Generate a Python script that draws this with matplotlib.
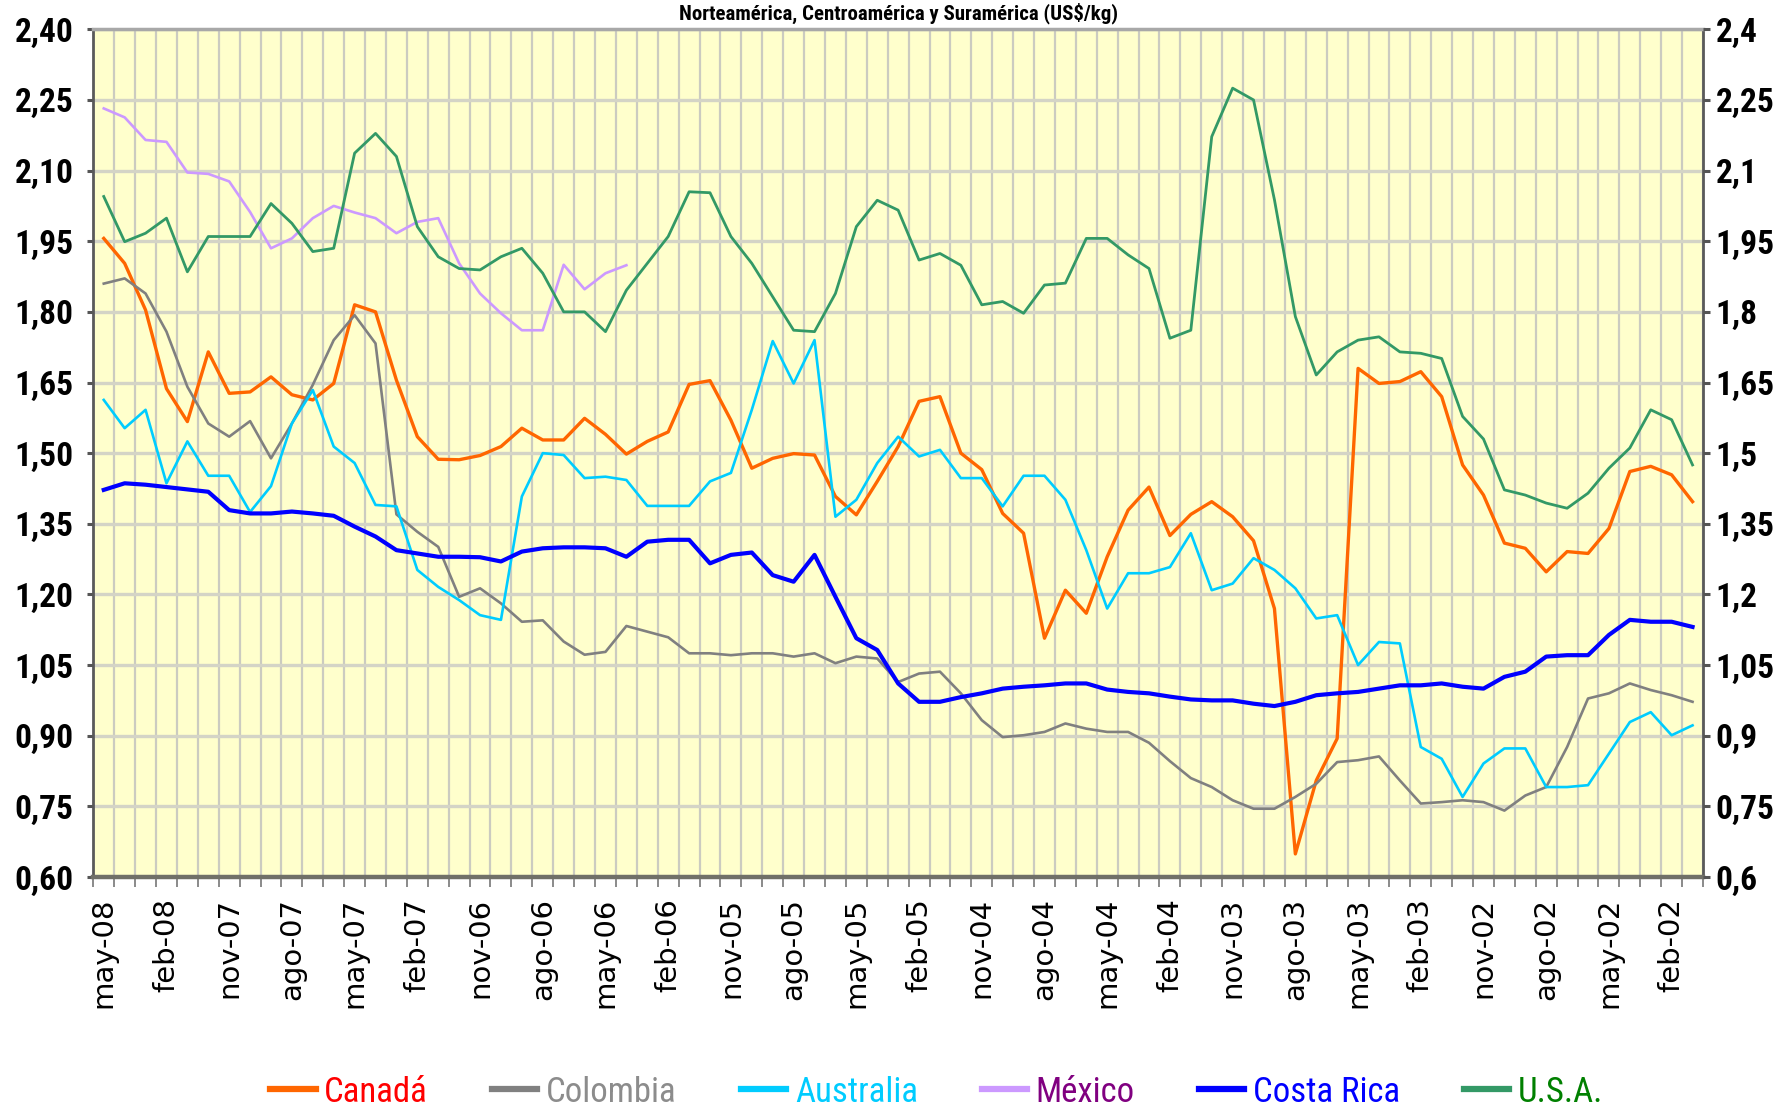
import numpy as np
import matplotlib
matplotlib.use("Agg")
import matplotlib.pyplot as plt
from matplotlib.ticker import FixedLocator, FuncFormatter

# ---------------- data (monthly, from may-08 back to jan-02) ----------------
tick_labels = ["may-08", "feb-08", "nov-07", "ago-07", "may-07", "feb-07", "nov-06",
               "ago-06", "may-06", "feb-06", "nov-05", "ago-05", "may-05", "feb-05",
               "nov-04", "ago-04", "may-04", "feb-04", "nov-03", "ago-03", "may-03",
               "feb-03", "nov-02", "ago-02", "may-02", "feb-02"]

canada = [1.956, 1.903, 1.804, 1.637, 1.567, 1.715, 1.627, 1.630, 1.662, 1.624,
          1.613, 1.648, 1.815, 1.800, 1.655, 1.535, 1.487, 1.486, 1.495, 1.514,
          1.553, 1.528, 1.528, 1.574, 1.540, 1.498, 1.525, 1.545, 1.646, 1.654,
          1.570, 1.468, 1.489, 1.499, 1.496, 1.408, 1.369, 1.440, 1.514, 1.610,
          1.620, 1.500, 1.465, 1.372, 1.330, 1.107, 1.209, 1.160, 1.280, 1.379,
          1.428, 1.325, 1.370, 1.397, 1.365, 1.314, 1.170, 0.649, 0.805, 0.894,
          1.680, 1.648, 1.652, 1.673, 1.620, 1.475, 1.411, 1.309, 1.298, 1.248,
          1.291, 1.287, 1.340, 1.461, 1.472, 1.454, 1.397]

colombia = [1.860, 1.871, 1.839, 1.758, 1.641, 1.563, 1.535, 1.568, 1.489, 1.563,
            1.645, 1.740, 1.793, 1.733, 1.370, 1.333, 1.301, 1.195, 1.213, 1.181,
            1.142, 1.145, 1.100, 1.072, 1.078, 1.133, 1.121, 1.109, 1.075, 1.075,
            1.071, 1.075, 1.075, 1.068, 1.075, 1.054, 1.068, 1.064, 1.014, 1.032,
            1.036, 0.990, 0.933, 0.897, 0.901, 0.908, 0.926, 0.915, 0.908, 0.908,
            0.885, 0.846, 0.810, 0.791, 0.763, 0.745, 0.745, 0.770, 0.798, 0.844,
            0.848, 0.856, 0.805, 0.756, 0.759, 0.763, 0.759, 0.741, 0.773, 0.791,
            0.876, 0.979, 0.990, 1.011, 0.997, 0.986, 0.972]

australia = [1.613, 1.553, 1.592, 1.436, 1.525, 1.452, 1.452, 1.375, 1.430, 1.563,
             1.634, 1.514, 1.479, 1.390, 1.387, 1.252, 1.216, 1.188, 1.156, 1.146,
             1.408, 1.500, 1.496, 1.447, 1.450, 1.443, 1.388, 1.388, 1.388, 1.440,
             1.458, 1.592, 1.738, 1.648, 1.740, 1.365, 1.401, 1.479, 1.535, 1.493,
             1.507, 1.447, 1.447, 1.387, 1.452, 1.452, 1.401, 1.294, 1.170, 1.245,
             1.245, 1.258, 1.330, 1.209, 1.223, 1.277, 1.252, 1.213, 1.149, 1.156,
             1.050, 1.099, 1.096, 0.876, 0.851, 0.770, 0.841, 0.873, 0.873, 0.791,
             0.791, 0.795, 0.862, 0.929, 0.950, 0.901, 0.922]

mexico = [2.232, 2.213, 2.165, 2.161, 2.096, 2.093, 2.077, 2.012, 1.935, 1.956,
          1.999, 2.025, 2.011, 1.999, 1.967, 1.991, 1.999, 1.903, 1.839, 1.797,
          1.761, 1.761, 1.900, 1.848, 1.882, 1.899]

costa_rica = [1.422, 1.436, 1.433, 1.428, 1.423, 1.418, 1.379, 1.372, 1.372, 1.376,
              1.372, 1.367, 1.344, 1.323, 1.294, 1.287, 1.280, 1.280, 1.279, 1.270,
              1.291, 1.298, 1.300, 1.300, 1.298, 1.280, 1.312, 1.316, 1.316, 1.266,
              1.284, 1.289, 1.241, 1.227, 1.284, 1.195, 1.107, 1.082, 1.011, 0.972,
              0.972, 0.982, 0.990, 1.000, 1.004, 1.007, 1.011, 1.011, 0.998, 0.993,
              0.990, 0.983, 0.977, 0.975, 0.975, 0.968, 0.963, 0.972, 0.986, 0.990,
              0.993, 1.000, 1.007, 1.007, 1.011, 1.004, 1.000, 1.025, 1.036, 1.068,
              1.071, 1.071, 1.114, 1.146, 1.142, 1.142, 1.131]

usa = [2.045, 1.949, 1.967, 1.999, 1.885, 1.960, 1.960, 1.960, 2.030, 1.988,
       1.928, 1.935, 2.137, 2.179, 2.130, 1.981, 1.917, 1.892, 1.889, 1.917,
       1.935, 1.882, 1.800, 1.800, 1.758, 1.846, 1.903, 1.960, 2.055, 2.053,
       1.960, 1.903, 1.832, 1.761, 1.758, 1.839, 1.981, 2.037, 2.016, 1.910,
       1.924, 1.899, 1.815, 1.822, 1.797, 1.857, 1.861, 1.956, 1.956, 1.921,
       1.892, 1.744, 1.761, 2.172, 2.275, 2.250, 2.038, 1.790, 1.666, 1.715,
       1.740, 1.747, 1.715, 1.712, 1.701, 1.578, 1.530, 1.422, 1.411, 1.394,
       1.383, 1.415, 1.468, 1.511, 1.592, 1.571, 1.475]

series_names = ["Canadá", "Colombia", "Australia", "México", "Costa Rica", "U.S.A."]
line_colors = ["#FF6600", "#808080", "#00CCFF", "#CC99FF", "#0000FF", "#339966"]
text_colors = ["#FF0000", "#8C8C8C", "#00CCFF", "#800080", "#0000FF", "#008000"]
line_widths = [2.4, 1.9, 1.9, 1.9, 3.0, 2.0]

title_text = "Norteamérica, Centroamérica y Suramérica (US$/kg)"

NARROW = ["Liberation Sans Narrow", "Roboto Condensed", "DejaVu Sans Condensed",
          "Liberation Sans", "DejaVu Sans"]

# ---------------- figure ----------------
W, H = 1784, 1110
fig = plt.figure(figsize=(W / 100, H / 100), dpi=100)
left_px, right_px, top_px, bot_px = 93.3, 1703.0, 29.3, 877.0
ax = fig.add_axes([left_px / W, 1 - bot_px / H, (right_px - left_px) / W,
                   (bot_px - top_px) / H])
ax.set_facecolor("#FFFFCC")

n_months = len(canada)
ax.set_xlim(-0.5, n_months - 0.5)
ax.set_ylim(0.6, 2.4)

yt = np.round(np.arange(0.6, 2.4001, 0.15), 2)
ax.yaxis.set_major_locator(FixedLocator(yt))
ax.yaxis.set_major_formatter(FuncFormatter(lambda v, p: f"{v:.2f}".replace(".", ",")))

# x: labels every 3 months at category centres, tick marks at boundaries
major_pos = list(range(0, n_months, 3))[:len(tick_labels)]
ax.xaxis.set_major_locator(FixedLocator(major_pos))
ax.set_xticklabels(tick_labels, rotation=90, family="DejaVu Sans", fontsize=21)
ax.xaxis.set_minor_locator(FixedLocator(np.arange(-0.5, n_months, 1.0)))

ax.tick_params(axis="x", which="major", length=0, pad=15)
ax.tick_params(axis="x", which="minor", length=7, width=1.4, color="#8a8a8a")
ax.tick_params(axis="y", which="major", length=4, width=2.2, color="#555555",
               pad=10)
for lab in ax.get_yticklabels():
    lab.set_family(NARROW)
    lab.set_fontsize(24)
    lab.set_fontweight("bold")
    lab.set_fontstretch("condensed")

ax.grid(True, axis="x", which="minor", color="#cbcbc0", lw=1.6)
ax.grid(True, axis="y", which="major", color="#d4d4c6", lw=2.4)
ax.set_axisbelow(True)

for s in ["left", "right"]:
    ax.spines[s].set_color("#5a5a5a")
    ax.spines[s].set_linewidth(2.0)
ax.spines["top"].set_color("#a8a8a8")
ax.spines["top"].set_linewidth(2.5)
ax.spines["bottom"].set_color("#707068")
ax.spines["bottom"].set_linewidth(3.2)

# ---------------- series ----------------
all_series = [canada, colombia, australia, mexico, costa_rica, usa]
handles = []
for name, vals, col, lw in zip(series_names, all_series, line_colors, line_widths):
    h, = ax.plot(range(len(vals)), vals, color=col, lw=lw, label=name,
                 solid_joinstyle="round", zorder=3)
    handles.append(h)

# ---------------- right axis ----------------
ax2 = ax.twinx()
ax2.set_ylim(0.6, 2.4)
ax2.yaxis.set_major_locator(FixedLocator(yt))
ax2.yaxis.set_major_formatter(FuncFormatter(
    lambda v, p: f"{v:.2f}".rstrip("0").rstrip(".").replace(".", ",")))
ax2.tick_params(axis="y", length=5, width=2.2, color="#555555", pad=4)
for lab in ax2.get_yticklabels():
    lab.set_family(NARROW)
    lab.set_fontsize(24)
    lab.set_fontweight("bold")
    lab.set_fontstretch("condensed")
for s in ax2.spines.values():
    s.set_visible(False)

# ---------------- legend ----------------
leg = fig.legend(handles, series_names, loc="center",
                 bbox_to_anchor=(937 / W, 1 - 1092 / H), ncol=6, frameon=False,
                 prop=dict(family=NARROW, size=25, stretch="condensed"),
                 handlelength=1.3, handletextpad=0.25, columnspacing=1.85)
for t, c in zip(leg.get_texts(), text_colors):
    t.set_color(c)
for lh in leg.legend_handles:
    lh.set_linewidth(4.5)

# ---------------- title (top strip) ----------------
fig.text(899 / W, 1 - 2 / H, title_text, ha="center", va="top",
         family=NARROW, fontsize=15, fontweight="bold")

fig.savefig("out.png", dpi=100, facecolor="white")
